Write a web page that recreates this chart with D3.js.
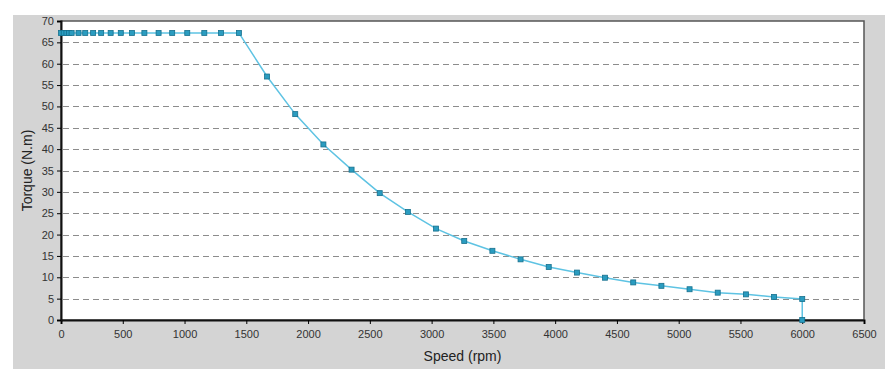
<!DOCTYPE html>
<html>
<head>
<meta charset="utf-8">
<script src="https://cdn.jsdelivr.net/npm/d3@7"></script>
<style>
	body { margin: 0; background: #fff; }
	svg { display: block; font-family: "Liberation Sans", Arial, sans-serif; }
	.grid line { stroke: #8c8c8c; stroke-dasharray: 6,4; }
	.tick text { fill: #333; font-size: 11px; }
</style>
</head>
<body>
<div class="chart"></div>
<script>
// flat region (constant torque) then field weakening
var speeds = [0, 22, 44, 65, 86, 142, 196, 260, 325, 402, 484, 574, 675, 790, 900, 1022, 1160, 1295, 1440,
	1668, 1896, 2124, 2352, 2580, 2808, 3036, 3264, 3492, 3720, 3948, 4176, 4404, 4632, 4860, 5088, 5316, 5544, 5772, 6000, 6000];
var torques = [67.2, 67.2, 67.2, 67.2, 67.2, 67.2, 67.2, 67.2, 67.2, 67.2, 67.2, 67.2, 67.2, 67.2, 67.2, 67.2, 67.2, 67.2, 67.2,
	57.0, 48.2, 41.1, 35.2, 29.7, 25.3, 21.4, 18.5, 16.2, 14.2, 12.4, 11.1, 9.9, 8.8, 8.0, 7.2, 6.4, 6.0, 5.4, 4.9, 0];
var xTicks = [0, 500, 1000, 1500, 2000, 2500, 3000, 3500, 4000, 4500, 5000, 5500, 6000, 6500];
var yTicks = [0, 5, 10, 15, 20, 25, 30, 35, 40, 45, 50, 55, 60, 65, 70];

var W = 894, H = 384;
var m = {left: 61, right: 30, top: 21, bottom: 64};

var svg = d3.select(".chart").append("svg")
	.attr("width", W)
	.attr("height", H);

// gray panel
svg.append("rect")
	.attr("x", 13).attr("y", 15)
	.attr("width", 872).attr("height", 354)
	.attr("fill", "#d4d4d4");

var x = d3.scaleLinear().domain([0, 6500]).range([m.left, W - m.right]);
var y = d3.scaleLinear().domain([0, 70]).range([H - m.bottom, m.top]);

svg.append("rect")
	.attr("x", x(0)).attr("y", y(70))
	.attr("width", x(6500) - x(0)).attr("height", y(0) - y(70))
	.attr("fill", "#fff")
	.attr("stroke", "#555")
	.attr("stroke-width", 1.5);

// dashed grid
svg.append("g").attr("class", "grid")
	.selectAll("line")
	.data(yTicks.filter(function(d){ return d > 0 && d < 70; }))
	.enter().append("line")
	.attr("x1", x(0) + 2).attr("x2", x(6500) - 1)
	.attr("y1", function(d){ return Math.round(y(d)) + 0.5; })
	.attr("y2", function(d){ return Math.round(y(d)) + 0.5; });

var xAxis = svg.append("g")
	.attr("transform", "translate(0," + y(0) + ")")
	.call(d3.axisBottom(x).tickValues(xTicks).tickSize(4).tickPadding(6).tickFormat(d3.format("d")));
xAxis.select(".domain").attr("stroke", "#111").attr("stroke-width", 2);

var yAxis = svg.append("g")
	.attr("transform", "translate(" + x(0) + ",0)")
	.call(d3.axisLeft(y).tickValues(yTicks).tickSize(4).tickPadding(3).tickFormat(d3.format("d")));
yAxis.select(".domain").attr("stroke", "#111").attr("stroke-width", 2);

var pts = speeds.map(function(s, i){ return {s: s, t: torques[i]}; });

var line = d3.line()
	.x(function(d){ return x(d.s); })
	.y(function(d){ return y(d.t); });

svg.append("path")
	.attr("d", line(pts))
	.attr("fill", "none")
	.attr("stroke", "#5ec3e3")
	.attr("stroke-width", 1.5);

svg.append("g").selectAll("rect")
	.data(pts)
	.enter().append("rect")
	.attr("x", function(d){ return x(d.s) - 2.5; })
	.attr("y", function(d){ return y(d.t) - 2.5; })
	.attr("width", 5).attr("height", 5)
	.attr("fill", "#2a9cc0")
	.attr("stroke", "#17708d")
	.attr("stroke-width", 0.8);

svg.append("text")
	.attr("x", (x(0) + x(6500)) / 2)
	.attr("y", 361)
	.attr("text-anchor", "middle")
	.attr("font-size", 14)
	.attr("fill", "#222")
	.text("Speed (rpm)");

svg.append("text")
	.attr("transform", "translate(32," + ((y(0) + y(70)) / 2) + ") rotate(-90)")
	.attr("text-anchor", "middle")
	.attr("font-size", 14)
	.attr("fill", "#222")
	.text("Torque (N.m)");
</script>
</body>
</html>
